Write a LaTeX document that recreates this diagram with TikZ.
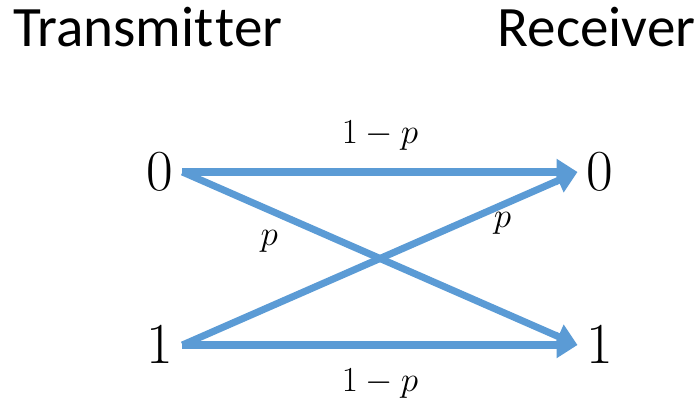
\RequirePackage{fix-cm}
\documentclass[tikz,border=0pt]{standalone}
\usepackage{fontspec}
\setmainfont{Carlito}[Ligatures={NoCommon,NoContextual}]
\usetikzlibrary{arrows.meta}
\definecolor{linkblue}{HTML}{5B9BD5}
\tikzset{
    bit/.style={inner xsep=5pt, inner ysep=0pt, font=\fontsize{33}{36}\selectfont},
    side/.style={anchor=base, font=\fontsize{32.5}{38}\selectfont},
    link/.style={draw=linkblue, line width=4pt, -{Triangle[length=0.42cm,width=0.5cm]}},
    prob/.style={font=\fontsize{20}{24}\selectfont}
}
\begin{document}
\begin{tikzpicture}
    \useasboundingbox (0,0) rectangle (13.98,8.06);
    % headings
    \node[side] (tx) at (2.96,7.12) {Transmit\kern1.2pt ter};
    \node[side] (rx) at (11.93,7.12) {Receiver};
    % input and output symbols
    \node[bit] (t0) at (3.2,4.62) {$0$};
    \node[bit] (t1) at (3.2,1.16) {$1$};
    \node[bit] (r0) at (12.0,4.62) {$0$};
    \node[bit] (r1) at (12.0,1.16) {$1$};
    % transitions
    \draw[link] (t0.east) -- node[prob, above=7pt] {$1-p$} (r0.west);
    \draw[link] (t1.east) -- node[prob, below=8pt] {$1-p$} (r1.west);
    \draw[link] (t0.east) -- node[prob, pos=0.22, below=6pt] {$p$} (r1.west);
    \draw[link] (t1.east) -- node[prob, pos=0.81, below=-1pt] {$p$} (r0.west);
\end{tikzpicture}
\end{document}
